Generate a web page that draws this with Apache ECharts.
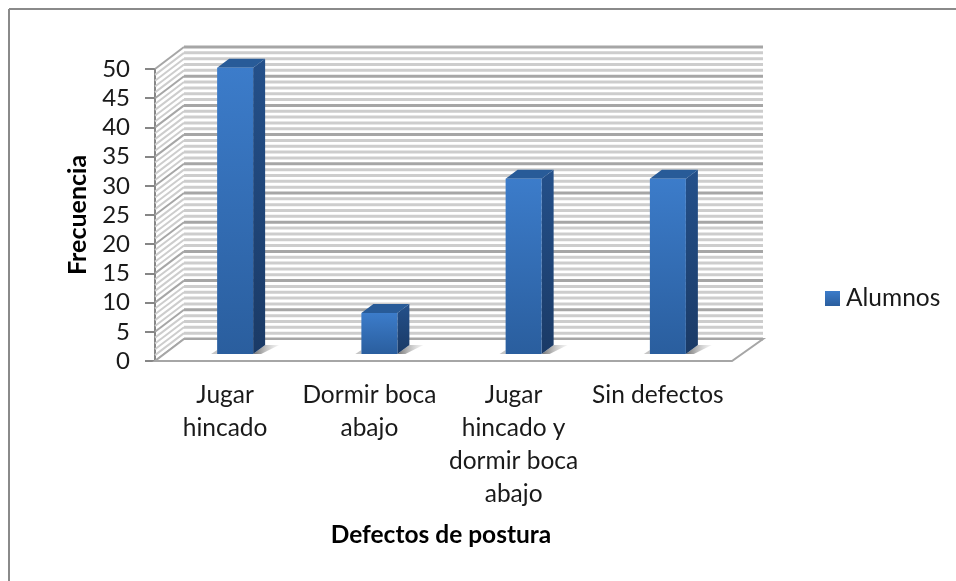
<!DOCTYPE html>
<html>
<head>
<meta charset="utf-8">
<style>html,body{margin:0;padding:0;background:#fff}#c{width:956px;height:581px}</style>
<script src="https://cdn.jsdelivr.net/npm/echarts@6/dist/echarts.min.js"></script>
</head>
<body>
<div id="c"></div>
<script>
const categories = ['Jugar\nhincado', 'Dormir boca\nabajo', 'Jugar\nhincado y\ndormir boca\nabajo', 'Sin defectos'];
const alumnos = [49, 7, 30, 30];
const seriesName = 'Alumnos';
const yTitle = 'Frecuencia';
const xTitle = 'Defectos de postura';
const gridUnits = [];
for (let u = 0; u <= 50; u++) gridUnits.push([u]);

const FONT = 'Lato, "Open Sans", sans-serif';
const DEPTH = { x: 29, y: -22 };     // offset of the back wall from the axis plane
const WALL_RIGHT = 31;               // the back wall runs slightly past the floor's front edge
const BAR_INSET = { x: 8, y: -7 };   // bar front face sits inside the floor
const BAR_DEPTH = { x: 12, y: -9 };
const BAR_WIDTH = 36;

const vGrad = (a, b) => new echarts.graphic.LinearGradient(0, 0, 0, 1, [
  { offset: 0, color: a }, { offset: 1, color: b }
]);

function poly(points, fill, extra) {
  return Object.assign({ type: 'polygon', shape: { points }, style: { fill } }, extra || {});
}

// Side wall and back wall rules, one per axis unit
function renderWall(params, api) {
  const u = api.value(0);
  const cs = params.coordSys;
  const y = api.coord([0, u])[1];
  const major = u % 5 === 0;
  const stroke = major ? '#a6a6a6' : '#cdcdcd';
  const lineWidth = 3;
  const left = cs.x, right = cs.x + cs.width;
  const yb = y + DEPTH.y;
  return {
    type: 'group',
    children: [
      { type: 'line', shape: { x1: left, y1: y, x2: left + DEPTH.x, y2: yb }, style: { stroke, lineWidth: 2 } },
      { type: 'line', shape: { x1: left + DEPTH.x, y1: yb, x2: right + WALL_RIGHT, y2: yb }, style: { stroke, lineWidth } }
    ]
  };
}

// Floor plate, laid over the bottom wall rule
function renderFloor(params, api) {
  const cs = params.coordSys;
  const y = api.coord([0, 0])[1];
  const left = cs.x, right = cs.x + cs.width;
  return {
    type: 'polygon',
    shape: { points: [[left, y], [left + DEPTH.x, y + DEPTH.y], [right + WALL_RIGHT, y + DEPTH.y], [right, y]] },
    style: { fill: '#fff', stroke: '#a6a6a6', lineWidth: 2 }
  };
}

// Extruded column: shadow, right side, top and front faces
function renderBar(params, api) {
  const c = api.coord([api.value(0), api.value(1)]);
  const base = api.coord([api.value(0), 0]);
  const x0 = c[0] + BAR_INSET.x - BAR_WIDTH / 2;
  const x1 = x0 + BAR_WIDTH;
  const yTop = c[1] + BAR_INSET.y;
  const yBase = base[1] + BAR_INSET.y;
  const dx = BAR_DEPTH.x, dy = BAR_DEPTH.y;
  return {
    type: 'group',
    children: [
      poly([[x1, yBase], [x1 + dx, yBase + dy], [x1 + dx + 14, yBase + dy], [x1 + 8, yBase]],
        new echarts.graphic.LinearGradient(0, 0, 1, 0, [
          { offset: 0, color: '#6f6f6f' }, { offset: 1, color: 'rgba(200,200,200,0.2)' }
        ])),
      poly([[x0 - 6, yBase], [x0, yBase - 4], [x0, yBase]], 'rgba(150,150,150,0.55)'),
      poly([[x1, yTop], [x1 + dx, yTop + dy], [x1 + dx, yBase + dy], [x1, yBase]], vGrad('#24508a', '#1a3a66')),
      poly([[x0, yTop], [x0 + dx, yTop + dy], [x1 + dx, yTop + dy], [x1, yTop]], '#285b98'),
      { type: 'rect', shape: { x: x0, y: yTop, width: BAR_WIDTH, height: yBase - yTop },
        style: { fill: vGrad('#3c7cca', '#2a5e9e') } }
    ]
  };
}

const chart = echarts.init(document.getElementById('c'), null, { renderer: 'canvas' });
chart.setOption({
  animation: false,
  backgroundColor: '#fff',
  graphic: [
    { type: 'line', shape: { x1: 9, y1: 9, x2: 956, y2: 9 }, style: { stroke: '#8a8a8a', lineWidth: 2 }, z: 0 },
    { type: 'line', shape: { x1: 9, y1: 9, x2: 9, y2: 581 }, style: { stroke: '#8a8a8a', lineWidth: 2 }, z: 0 }
  ],
  grid: { left: 155, top: 69, width: 577, height: 292 },
  legend: {
    data: [{ name: seriesName, icon: 'rect', itemStyle: { color: vGrad('#3c7cca', '#2a5e9e') } }],
    left: 820, top: 281,
    itemWidth: 15, itemHeight: 15, itemGap: 6,
    textStyle: { fontFamily: FONT, fontSize: 24.5, color: '#1a1a1a', padding: [0, 0, 0, 1] }
  },
  xAxis: {
    type: 'category',
    data: categories,
    name: xTitle,
    nameLocation: 'middle',
    nameGap: 162,
    nameTextStyle: { fontFamily: FONT, fontSize: 24.5, fontWeight: 'bold', color: '#000', padding: [0, 5, 0, 0] },
    axisLine: { show: false },
    axisTick: { show: false },
    axisLabel: { interval: 0, margin: 18, fontFamily: FONT, fontSize: 24.5, lineHeight: 33, color: '#1a1a1a', padding: [0, 4, 0, 0] }
  },
  yAxis: {
    type: 'value',
    min: 0, max: 50, interval: 5,
    name: yTitle,
    nameLocation: 'middle',
    nameRotate: 90,
    nameGap: 62,
    nameTextStyle: { fontFamily: FONT, fontSize: 25, fontWeight: 'bold', color: '#000', padding: [0, 0, 3, 0] },
    axisLine: { show: true, lineStyle: { color: '#868686', width: 2 } },
    axisTick: { show: true, length: 10, lineStyle: { color: '#868686', width: 2 } },
    axisLabel: { margin: 25, fontFamily: FONT, fontSize: 24, color: '#1a1a1a', padding: [5, 0, 0, 0] },
    splitLine: { show: false }
  },
  series: [
    { type: 'custom', name: 'wall', silent: true, clip: false, z: 1, renderItem: renderWall, data: gridUnits, encode: { y: 0 } },
    { type: 'custom', name: 'floor', silent: true, clip: false, z: 2, renderItem: renderFloor, data: [[0]], encode: { y: 0 } },
    { type: 'custom', name: seriesName, clip: false, z: 3, renderItem: renderBar,
      itemStyle: { color: '#3c7cca' },
      data: alumnos.map((v, i) => [i, v]), encode: { x: 0, y: 1 } }
  ]
});
</script>
</body>
</html>
